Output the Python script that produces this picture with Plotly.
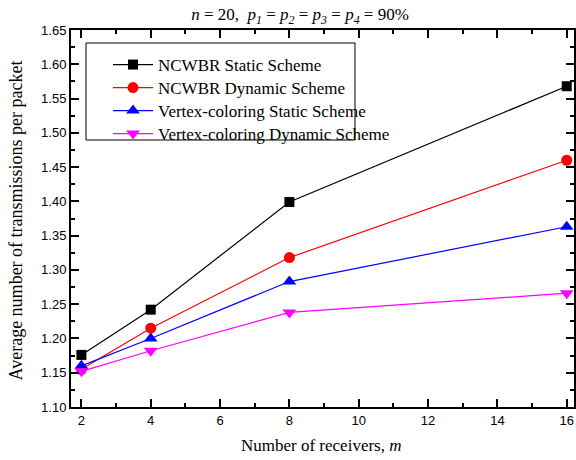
import plotly.graph_objects as go

receivers = [2, 4, 8, 16]
ncwbr_static = [1.176, 1.242, 1.399, 1.568]
ncwbr_dynamic = [1.155, 1.215, 1.318, 1.460]
vc_static = [1.160, 1.200, 1.283, 1.363]
vc_dynamic = [1.152, 1.182, 1.238, 1.266]

names = ["NCWBR Static Scheme", "NCWBR Dynamic Scheme",
         "Vertex-coloring Static Scheme", "Vertex-coloring Dynamic Scheme"]
series = [ncwbr_static, ncwbr_dynamic, vc_static, vc_dynamic]
colors = ["#000000", "#ff0000", "#0000ff", "#ff00ff"]
symbols = ["square", "circle", "triangle-up", "triangle-down"]
sizes = [10, 11, 12, 12]

serif = "Liberation Serif"
sans = "Liberation Sans"

# plot area in pixels
W, H = 576, 460
L, R, T, B = 71, 2, 30, 53
pw, ph = W - L - R, H - T - B


def px(x):
    return (x - L) / pw


def py(y):
    return 1 - (y - T) / ph


legend_ids = ["legend", "legend2", "legend3", "legend4"]
item_y = [65, 88, 111, 134]

fig = go.Figure()
for n, ys, c, s, sz, lg in zip(names, series, colors, symbols, sizes, legend_ids):
    fig.add_trace(go.Scatter(
        x=receivers, y=ys, name=n, mode="lines+markers",
        line=dict(color=c, width=1.2),
        marker=dict(symbol=s, size=sz, color=c, line=dict(width=0)),
        cliponaxis=False, legend=lg,
    ))

axis_common = dict(
    showline=True, linecolor="black", linewidth=2, mirror="allticks",
    ticks="inside", ticklen=8, tickwidth=1.5, tickcolor="black",
    showgrid=False, zeroline=False, automargin=False,
    tickfont=dict(family=sans, size=13, color="black"),
)

fig.update_xaxes(
    range=[1.7, 16.21], tickmode="array", tickvals=[2, 4, 6, 8, 10, 12, 14, 16],
    minor=dict(ticks="inside", ticklen=4, tickwidth=1.5, tickcolor="black",
               tickvals=[3, 5, 7, 9, 11, 13, 15]),
    **axis_common,
)
fig.update_yaxes(
    range=[1.10, 1.65], tickmode="array",
    tickvals=[1.10, 1.15, 1.20, 1.25, 1.30, 1.35, 1.40, 1.45, 1.50, 1.55, 1.60, 1.65],
    tickformat=".2f",
    minor=dict(ticks="inside", ticklen=4, tickwidth=1.5, tickcolor="black", dtick=0.025),
    **axis_common,
)

legend_common = dict(
    xanchor="left", yanchor="middle", bgcolor="rgba(0,0,0,0)", borderwidth=0,
    font=dict(family=serif, size=17, color="black"), itemwidth=40,
)
legends = {}
for lg, yy in zip(legend_ids, item_y):
    legends[lg] = dict(x=px(108), y=py(yy), **legend_common)

eq = "&nbsp;= "
title_text = ("<i>n</i>" + eq + "20, &nbsp;<i>p</i><sub><i>1</i></sub>" + eq +
              "<i>p</i><sub><i>2</i></sub>" + eq + "<i>p</i><sub><i>3</i></sub>" + eq +
              "<i>p</i><sub><i>4</i></sub>" + eq + "90%")

fig.update_layout(
    width=W, height=H,
    margin=dict(l=L, r=R, t=T, b=B),
    plot_bgcolor="white", paper_bgcolor="white",
    title=dict(
        text=title_text,
        font=dict(family=serif, size=17, color="black"),
        x=300 / W, xref="container", xanchor="center",
        y=1 - 14 / H, yref="container", yanchor="middle",
    ),
    showlegend=True,
    shapes=[dict(type="rect", xref="paper", yref="paper",
                 x0=px(86), x1=px(355), y0=py(140), y1=py(43),
                 line=dict(color="black", width=1), fillcolor="rgba(0,0,0,0)",
                 layer="below")],
    annotations=[
        dict(text="Number of receivers, <i>m</i>", xref="paper", yref="paper",
             x=px(321), y=py(445), xanchor="center", yanchor="middle",
             showarrow=False, font=dict(family=serif, size=17, color="black")),
        dict(text="Average number of transmissions per packet", xref="paper", yref="paper",
             x=px(15.5), y=py(221), xanchor="center", yanchor="middle", textangle=-90,
             showarrow=False, font=dict(family=serif, size=18, color="black")),
    ],
    **legends,
)

fig.write_html("out.html", config={"displayModeBar": False},
               post_script="document.body.style.margin='0px';")
